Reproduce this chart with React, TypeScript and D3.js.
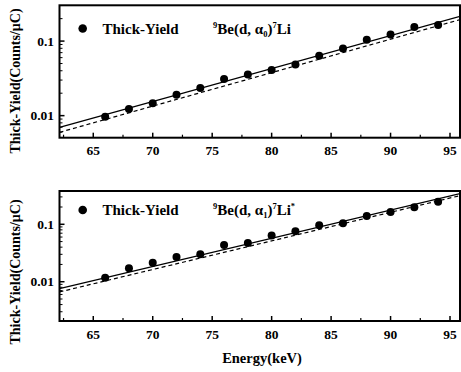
import React from "react";
import * as d3 from "d3";

const energy = [66, 68, 70, 72, 74, 76, 78, 80, 82, 84, 86, 88, 90, 92, 94];
const yieldA0 = [0.0097, 0.0123, 0.0147, 0.019, 0.0235, 0.0311, 0.0357, 0.0411, 0.0485, 0.0635, 0.0796, 0.104, 0.123, 0.154, 0.164];
const yieldA1 = [0.0117, 0.0172, 0.0213, 0.027, 0.030, 0.0434, 0.047, 0.0638, 0.0757, 0.096, 0.104, 0.139, 0.163, 0.199, 0.246];
const fitEnergy = [62.16, 95.84];
const fitA0Solid = [0.00697, 0.215];
const fitA0Dashed = [0.00597, 0.194];
const fitA1Solid = [0.00757, 0.342];
const fitA1Dashed = [0.00664, 0.316];
const xMajorTicks = [65, 70, 75, 80, 85, 90, 95];
const xMinorTicks = [62.5, 67.5, 72.5, 77.5, 82.5, 87.5, 92.5];
const yMajorTicks = [0.01, 0.1];
const yTickLabels = ["0.01", "0.1"];
const xDomain = [62.16, 95.84];
const legendLabel = "Thick-Yield";
const yAxisLabel = "Thick-Yield(Counts/μC)";
const xAxisLabel = "Energy(keV)";

const FONT = "'Liberation Serif', 'Times New Roman', serif";
const L = 59.5;
const R = 460;

type PanelProps = {
  top: number;
  bottom: number;
  yDomain: [number, number];
  values: number[];
  solid: number[];
  dashed: number[];
  sub: string;
  star: boolean;
  tickBase: number;
  legendBase: number;
  yLabelCenter: number;
  id: string;
};

function Panel(p: PanelProps) {
  const x = d3.scaleLinear().domain(xDomain).range([L, R]);
  const y = d3.scaleLog().domain(p.yDomain).range([p.bottom, p.top]);
  const minorY: number[] = [];
  for (let e = -4; e <= 0; e++) {
    for (let m = 2; m <= 9; m++) {
      const v = m * Math.pow(10, e);
      if (v > p.yDomain[0] && v < p.yDomain[1]) minorY.push(v);
    }
  }
  const line = d3
    .line<number>()
    .x((_, i) => x(fitEnergy[i]))
    .y((d) => y(d));
  const legendY = p.legendBase - 5;
  return (
    <g>
      <defs>
        <clipPath id={p.id}>
          <rect x={L} y={p.top} width={R - L} height={p.bottom - p.top} />
        </clipPath>
      </defs>
      <g clipPath={`url(#${p.id})`}>
        <path d={line(p.solid) || ""} fill="none" stroke="#000" strokeWidth={1.2} />
        <path d={line(p.dashed) || ""} fill="none" stroke="#000" strokeWidth={1.2} strokeDasharray="4,3" />
      </g>
      {p.values.map((v, i) => (
        <circle key={i} cx={x(energy[i])} cy={y(v)} r={4} fill="#000" />
      ))}
      {xMajorTicks.map((t) => (
        <g key={"xm" + t}>
          <line x1={x(t)} x2={x(t)} y1={p.bottom} y2={p.bottom - 5} stroke="#000" strokeWidth={1.5} />
          <text x={x(t)} y={p.tickBase} textAnchor="middle" fontFamily={FONT} fontWeight="bold" fontSize={13.5}>
            {t}
          </text>
        </g>
      ))}
      {xMinorTicks.map((t) => (
        <line key={"xn" + t} x1={x(t)} x2={x(t)} y1={p.bottom} y2={p.bottom - 3} stroke="#000" strokeWidth={1.2} />
      ))}
      {yMajorTicks.map((t, i) => (
        <g key={"ym" + t}>
          <line x1={L} x2={L + 5} y1={y(t)} y2={y(t)} stroke="#000" strokeWidth={1.5} />
          <text x={54} y={y(t) + 4.5} textAnchor="end" fontFamily={FONT} fontWeight="bold" fontSize={13.5}>
            {yTickLabels[i]}
          </text>
        </g>
      ))}
      {minorY.map((t) => (
        <line key={"yn" + t} x1={L} x2={L + 3} y1={y(t)} y2={y(t)} stroke="#000" strokeWidth={1} />
      ))}
      <rect x={L} y={p.top} width={R - L} height={p.bottom - p.top} fill="none" stroke="#000" strokeWidth={2} />
      <circle cx={82.7} cy={legendY} r={4.3} fill="#000" />
      <text x={102.5} y={p.legendBase} fontFamily={FONT} fontWeight="bold" fontSize={15}>
        {legendLabel}
      </text>
      <text x={213} y={p.legendBase} fontFamily={FONT} fontWeight="bold" fontSize={15}>
        <tspan fontSize={8.5} dy={-6}>9</tspan>
        <tspan dy={6}>Be(d, α</tspan>
        <tspan fontSize={8.5} dy={3}>{p.sub}</tspan>
        <tspan dy={-3}>)</tspan>
        <tspan fontSize={8.5} dy={-6}>7</tspan>
        <tspan dy={6}>Li</tspan>
        {p.star ? <tspan fontSize={8.5} dy={-6}>*</tspan> : null}
      </text>
      <text
        transform={`translate(20, ${p.yLabelCenter}) rotate(-90)`}
        textAnchor="middle"
        fontFamily={FONT}
        fontWeight="bold"
        fontSize={14}
      >
        {yAxisLabel}
      </text>
    </g>
  );
}

export default function App() {
  return (
    <svg
      width={461}
      height={372}
      style={{ position: "absolute", left: 0, top: 0, background: "#fff" }}
    >
      <rect x={0} y={0} width={461} height={372} fill="#fff" />
      <Panel
        id="clipA"
        top={5.3}
        bottom={137.7}
        yDomain={[0.00506, 0.302]}
        values={yieldA0}
        solid={fitA0Solid}
        dashed={fitA0Dashed}
        sub="0"
        star={false}
        tickBase={155}
        legendBase={33.5}
        yLabelCenter={81}
      />
      <Panel
        id="clipB"
        top={191}
        bottom={321}
        yDomain={[0.00207, 0.38]}
        values={yieldA1}
        solid={fitA1Solid}
        dashed={fitA1Dashed}
        sub="1"
        star={true}
        tickBase={339}
        legendBase={215}
        yLabelCenter={272}
      />
      <text x={262} y={363} textAnchor="middle" fontFamily={FONT} fontWeight="bold" fontSize={14.5}>
        {xAxisLabel}
      </text>
    </svg>
  );
}
